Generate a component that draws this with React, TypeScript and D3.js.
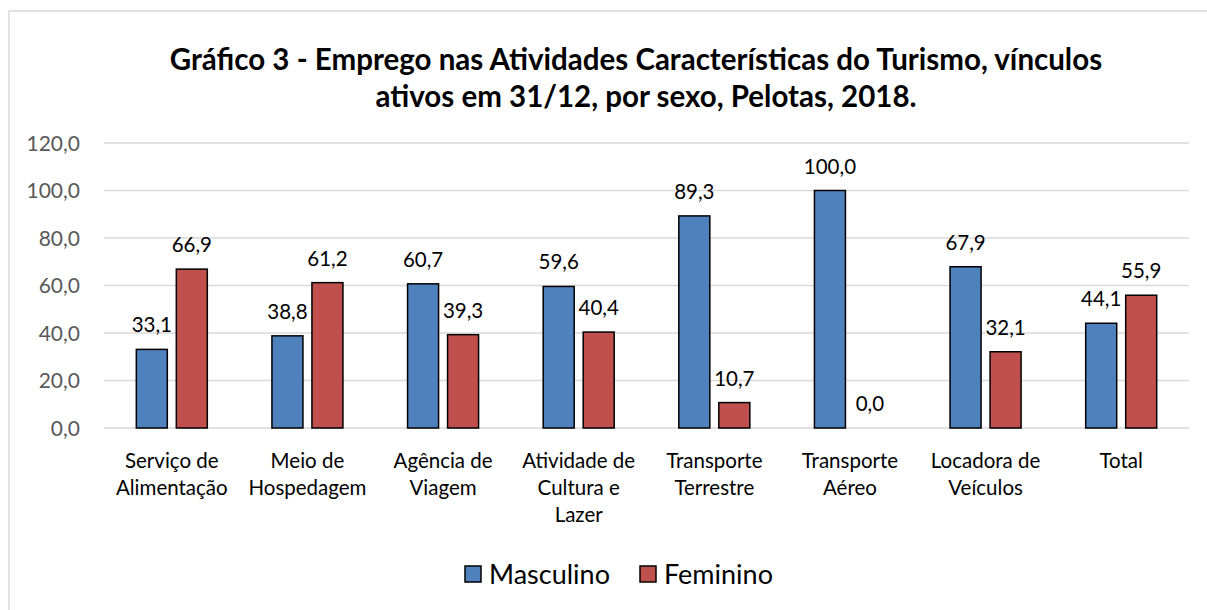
import React from "react";
import * as d3 from "d3";

const categories: string[][] = [
  ["Serviço de", "Alimentação"],
  ["Meio de", "Hospedagem"],
  ["Agência de", "Viagem"],
  ["Atividade de", "Cultura e", "Lazer"],
  ["Transporte", "Terrestre"],
  ["Transporte", "Aéreo"],
  ["Locadora de", "Veículos"],
  ["Total"],
];
const masculino = [33.1, 38.8, 60.7, 59.6, 89.3, 100.0, 67.9, 44.1];
const feminino = [66.9, 61.2, 39.3, 40.4, 10.7, 0.0, 32.1, 55.9];
const yTicks = [0, 20, 40, 60, 80, 100, 120];
const seriesNames = ["Masculino", "Feminino"];
const seriesColors = ["#4f81bd", "#c0504d"];
const titleLines = [
  "Gráfico 3 - Emprego nas Atividades Características do Turismo, vínculos",
  "ativos em 31/12, por sexo, Pelotas, 2018.",
];

const W = 1207;
const H = 610;
const FONT = "Lato, 'Open Sans', sans-serif";

export default function App() {
  const left = 104;
  const right = 1189;
  const top = 143;
  const bottom = 428;
  const x = d3
    .scaleBand<number>()
    .domain(d3.range(categories.length))
    .range([left, right]);
  const y = d3.scaleLinear().domain([0, 120]).range([bottom, top]);
  const barW = 31;
  const gap = 9;
  const fmt = (v: number) => v.toFixed(1).replace(".", ",");
  const series = [masculino, feminino];

  return (
    <div style={{ position: "fixed", left: 0, top: 0, width: W, height: H, overflow: "hidden" }}>
      <svg
        width={W}
        height={H}
        style={{ display: "block", background: "#fff" }}
        fontFamily={FONT}
      >
        <rect x={9} y={11} width={W + 100} height={H + 100} fill="#fff" stroke="#d9d9d9" strokeWidth={1.5} />
        {titleLines.map((t, i) => (
          <text
            key={i}
            x={i === 0 ? 636 : 646}
            y={70 + i * 37}
            textAnchor="middle"
            fontSize={29.5}
            fontWeight="bold"
            fill="#000"
          >
            {t}
          </text>
        ))}
        {yTicks.map((t) => (
          <g key={t}>
            <line x1={left} x2={right} y1={y(t)} y2={y(t)} stroke="#d9d9d9" strokeWidth={1.5} />
            <text x={80} y={y(t) + 7.5} textAnchor="end" fontSize={21} fill="#595959">
              {fmt(t)}
            </text>
          </g>
        ))}
        {categories.map((c, i) => {
          const cx = (x(i) as number) + x.bandwidth() / 2;
          return (
            <g key={i}>
              {series.map((s, k) => {
                const bx = cx - gap / 2 - barW + k * (barW + gap);
                const v = s[i];
                return (
                  <g key={k}>
                    {v > 0 && (
                      <rect
                        x={bx}
                        y={y(v)}
                        width={barW}
                        height={y(0) - y(v)}
                        fill={seriesColors[k]}
                        stroke="#000"
                        strokeWidth={1.5}
                      />
                    )}
                    <text
                      x={bx + barW / 2}
                      y={y(v) - 17}
                      textAnchor="middle"
                      fontSize={20.5}
                      fill="#000"
                    >
                      {fmt(v)}
                    </text>
                  </g>
                );
              })}
              {c.map((line, j) => (
                <text
                  key={j}
                  x={cx}
                  y={468 + j * 27}
                  textAnchor="middle"
                  fontSize={20.5}
                  fill="#000"
                >
                  {line}
                </text>
              ))}
            </g>
          );
        })}
        {seriesNames.map((n, k) => {
          const lx = [465, 640][k];
          return (
            <g key={n}>
              <rect x={lx} y={566} width={16} height={16} fill={seriesColors[k]} stroke="#000" strokeWidth={1.5} />
              <text x={lx + 24} y={584} fontSize={27} fill="#000">
                {n}
              </text>
            </g>
          );
        })}
      </svg>
    </div>
  );
}
